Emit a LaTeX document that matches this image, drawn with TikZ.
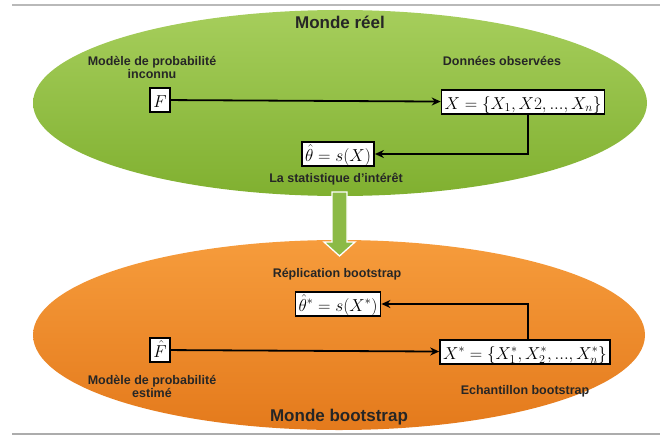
\documentclass[tikz,border=0pt]{standalone}
\usepackage{amsmath,amssymb}
\usepackage[no-math]{fontspec}
\setmainfont{Liberation Sans}
\usetikzlibrary{arrows.meta,positioning,calc}

\definecolor{reeltop}{RGB}{166,206,92}
\definecolor{reelbot}{RGB}{128,176,48}
\definecolor{bootop}{RGB}{246,156,60}
\definecolor{boobot}{RGB}{228,122,28}
\definecolor{passgreen}{RGB}{140,186,70}

\begin{document}
\begin{tikzpicture}[
    x=1pt, y=-1pt,
    font=\bfseries\fontsize{12.5}{13}\selectfont,
    lbl/.style={align=center, text=black!85, inner sep=1pt},
    ttl/.style={font=\bfseries\fontsize{17}{19}\selectfont, text=black!85},
    mbox/.style={draw, line width=1.8pt, fill=white, inner xsep=3pt, inner ysep=1pt,
      text height=18pt, text depth=4pt, font=\fontsize{17.5}{19}\selectfont},
    ar/.style={-{Stealth[length=9pt,width=8pt]}, line width=1.8pt},
  ]
    \useasboundingbox (0,0) rectangle (660,436);
    \draw[gray!55, line width=1.2pt] (12,5) -- (660,5);
    \draw[gray!65, line width=1.6pt] (12,434) -- (660,434);

    % les deux mondes
    \shade[top color=reeltop, bottom color=reelbot] (340,103) ellipse [x radius=307, y radius=93];
    \shade[top color=bootop, bottom color=boobot] (339,335) ellipse [x radius=306, y radius=95];

    % passage vers le monde bootstrap
    \draw[white, line width=1.3pt, fill=passgreen]
      (332,192) -- (347,192) -- (347,242) -- (355,242) -- (339.5,256)
      -- (324,242) -- (332,242) -- cycle;

    \node[ttl] (reel) at (340,22) {Monde réel};
    \node[lbl] (lblF) at (152,67) {Modèle de probabilité\\inconnu};
    \node[lbl] (lblX) at (502,61) {Données observées};
    \node[mbox] (F) at (160,100) {$F$};
    \node[mbox] (X) at (523,102) {$X = \{X_1, X2, ..., X_n\}$};
    \node[mbox] (theta) at (338,154) {$\hat{\theta} = s(X)$};
    \node[lbl] (lblT) at (336,179) {La statistique d'intérêt};

    \node[lbl] (lblR) at (337,274) {Réplication bootstrap};
    \node[mbox] (thetas) at (338,304) {$\hat{\theta}^{*} = s(X^{*})$};
    \node[mbox] (Fh) at (160,350) {$\hat{F}$};
    \node[mbox] (Xs) at (525,352) {$X^{*} = \{X_1^{*}, X_2^{*}, ..., X_n^{*}\}$};
    \node[lbl] (lblFh) at (152,386) {Modèle de probabilité\\estimé};
    \node[lbl] (lblXs) at (525,391) {Echantillon bootstrap};
    \node[ttl] (boot) at (339,417) {Monde bootstrap};

    \draw[ar] (F) -- (X);
    \draw[ar] (X.south -| 528,0) |- (theta.east);
    \draw[ar] (Fh) -- (Xs);
    \draw[ar] (Xs.north -| 528,0) |- (thetas.east);
  \end{tikzpicture}
\end{document}
